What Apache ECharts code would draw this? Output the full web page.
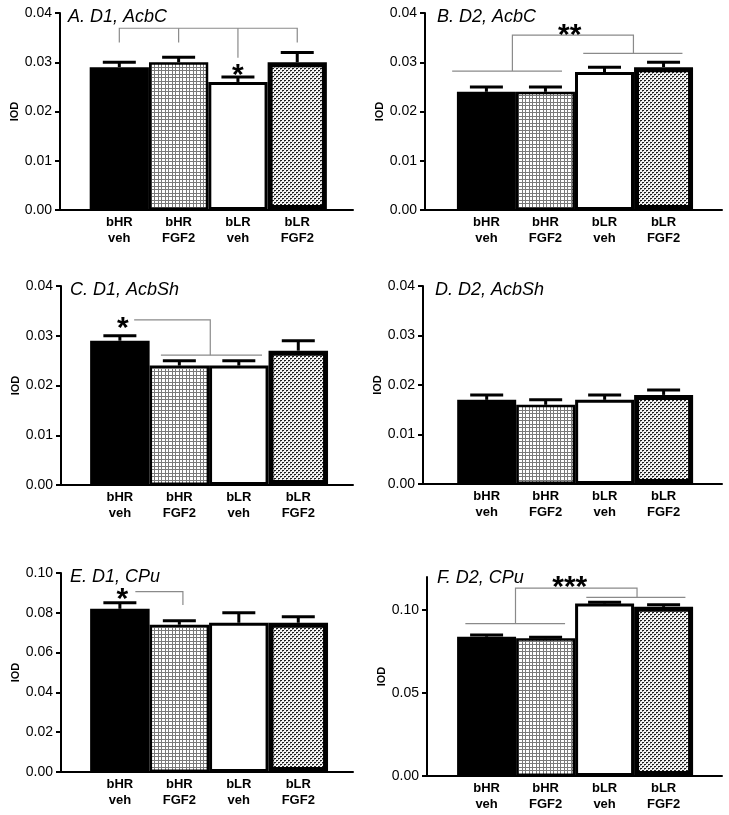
<!DOCTYPE html>
<html>
<head>
<meta charset="utf-8">
<script src="https://cdn.jsdelivr.net/npm/echarts@6/dist/echarts.min.js"></script>
<style>html,body{margin:0;padding:0;background:#fff}#c{width:729px;height:815px}</style>
</head>
<body>
<div id="c"></div>
<script>
// ---------- data ----------
const categories = ['bHR\nveh', 'bHR\nFGF2', 'bLR\nveh', 'bLR\nFGF2'];
const titles = ['A. D1, AcbC', 'B. D2, AcbC', 'C. D1, AcbSh', 'D. D2, AcbSh', 'E. D1, CPu', 'F. D2, CPu'];

const meanA = [0.029, 0.030, 0.026, 0.030];
const semA  = [0.001, 0.001, 0.001, 0.002];
const meanB = [0.024, 0.024, 0.028, 0.029];
const semB  = [0.001, 0.001, 0.001, 0.001];
const meanC = [0.029, 0.024, 0.024, 0.027];
const semC  = [0.001, 0.001, 0.001, 0.002];
const meanD = [0.017, 0.016, 0.017, 0.018];
const semD  = [0.001, 0.001, 0.001, 0.001];
const meanE = [0.082, 0.074, 0.075, 0.075];
const semE  = [0.003, 0.002, 0.005, 0.003];
const meanF = [0.084, 0.083, 0.104, 0.102];
const semF  = [0.001, 0.0007, 0.0007, 0.0012];

const yMaxes = [0.04, 0.04, 0.04, 0.04, 0.10, 0.12];
const yIntervals = [0.01, 0.01, 0.01, 0.01, 0.02, 0.05];
const yTicksF = [0, 0.05, 0.10];

// significance annotations, in data coordinates (x = group index, y = IOD)
const bracketsA = [[[0, 0.034], [0, 0.0369], [3, 0.0369], [3, 0.034]], [[1, 0.034], [1, 0.0369]], [[2, 0.0309], [2, 0.0369]]];
const bracketsB = [[[-0.58, 0.0282], [1.28, 0.0282]], [[1.64, 0.0318], [3.32, 0.0318]], [[0.44, 0.0282], [0.44, 0.0355], [2.49, 0.0355], [2.49, 0.0318]]];
const bracketsC = [[[0.24, 0.0332], [1.52, 0.0332], [1.52, 0.0261]], [[0.69, 0.0261], [2.39, 0.0261]]];
const bracketsD = [];
const bracketsE = [[[0.26, 0.0906], [1.06, 0.0906], [1.06, 0.0839]]];
const bracketsF = [[[-0.36, 0.0919], [1.33, 0.0919]], [[1.69, 0.1077], [3.37, 0.1077]], [[0.49, 0.0919], [0.49, 0.1133], [2.55, 0.1133], [2.55, 0.1077]]];

const starsA = [[2, 0.0288, '*']];
const starsB = [[1.41, 0.0369, '**']];
const starsC = [[0.05, 0.0328, '*']];
const starsD = [];
const starsE = [[0.04, 0.0902, '*']];
const starsF = [[1.41, 0.1178, '***']];

// ---------- layout ----------
const grids = [
  {left: 60, top: 13, width: 293, height: 197},
  {left: 425, top: 13, width: 297, height: 197},
  {left: 61, top: 286, width: 292, height: 199},
  {left: 423, top: 286, width: 299, height: 198},
  {left: 61, top: 573, width: 292, height: 199},
  {left: 427, top: 577, width: 295, height: 199}
];
const titlePos = [[68, 8], [437, 8], [70, 281], [435, 281], [70, 568], [437, 569]];
const xRanges = [[-1.0, 3.94], [-1.04, 3.99], [-0.99, 3.92], [-1.08, 3.99], [-0.99, 3.92], [-1.01, 3.99]];
const barWidths = [59.25, 59, 59.5, 59, 59.5, 59];

const means = [meanA, meanB, meanC, meanD, meanE, meanF];
const sems = [semA, semB, semC, semD, semE, semF];
const brackets = [bracketsA, bracketsB, bracketsC, bracketsD, bracketsE, bracketsF];
const stars = [starsA, starsB, starsC, starsD, starsE, starsF];

// ---------- patterns ----------
function gridPattern() {
  const c = document.createElement('canvas'); c.width = 7; c.height = 7;
  const g = c.getContext('2d');
  g.fillStyle = '#fff'; g.fillRect(0, 0, 7, 7);
  g.fillStyle = '#7a7a7a';
  g.fillRect(0, 0, 7, 1); g.fillRect(0, 4, 7, 1);
  g.fillRect(0, 0, 1, 7); g.fillRect(4, 0, 1, 7);
  return c;
}
function dotPattern() {
  const c = document.createElement('canvas'); c.width = 4; c.height = 4;
  const g = c.getContext('2d');
  g.fillStyle = '#f4f4f4'; g.fillRect(0, 0, 4, 4);
  g.fillStyle = '#1e1e1e';
  g.fillRect(0, 0, 2, 1); g.fillRect(2, 2, 2, 1);
  g.fillStyle = '#888';
  g.fillRect(0, 1, 1, 1); g.fillRect(2, 3, 1, 1);
  return c;
}
const gp = gridPattern(), dp = dotPattern();
const barStyles = [
  {color: '#000', borderColor: '#000', borderWidth: 2},
  {color: {image: gp, repeat: 'repeat'}, borderColor: '#000', borderWidth: 2.5},
  {color: '#fff', borderColor: '#000', borderWidth: 3},
  {color: {image: dp, repeat: 'repeat'}, borderColor: '#000', borderWidth: 5}
];

const FONT = '"Liberation Sans", Arial, sans-serif';

const option = {
  animation: false,
  backgroundColor: '#fff',
  grid: grids.map(g => Object.assign({outerBoundsMode: 'none', containLabel: false}, g)),
  xAxis: grids.map((g, i) => ({
    type: 'value', gridIndex: i, min: xRanges[i][0], max: xRanges[i][1],
    axisLine: {onZero: false, lineStyle: {color: '#000', width: 2}},
    axisTick: {show: false},
    splitLine: {show: false},
    axisLabel: {
      customValues: [0, 1, 2, 3],
      formatter: v => categories[Math.round(v)] || '',
      color: '#000', fontFamily: FONT, fontWeight: 'bold', fontSize: 13, lineHeight: 16, margin: 4
    }
  })),
  yAxis: grids.map((g, i) => {
    const ax = {
      type: 'value', gridIndex: i, min: 0, max: yMaxes[i], interval: yIntervals[i],
      name: 'IOD', nameLocation: 'middle', nameGap: 40,
      nameTextStyle: {color: '#000', fontFamily: FONT, fontWeight: 'bold', fontSize: 11},
      axisLine: {show: true, onZero: false, lineStyle: {color: '#000', width: 2}},
      axisTick: {show: true, length: 5, lineStyle: {color: '#000', width: 2}},
      splitLine: {show: false},
      axisLabel: {color: '#000', fontFamily: FONT, fontSize: 14, margin: 8, formatter: v => v.toFixed(2)}
    };
    if (i === 5) {
      ax.axisTick.customValues = yTicksF;
      ax.axisLabel.customValues = yTicksF;
    }
    return ax;
  }),
  graphic: titles.map((t, i) => ({
    type: 'text', left: titlePos[i][0], top: titlePos[i][1],
    style: {text: t, fontFamily: FONT, fontStyle: 'italic', fontSize: 18, fill: '#000'}
  })),
  series: []
};

for (let i = 0; i < 6; i++) {
  option.series.push({
    type: 'bar', xAxisIndex: i, yAxisIndex: i, barWidth: barWidths[i], z: 2,
    data: means[i].map((m, k) => ({value: [k, m], itemStyle: barStyles[k]}))
  });
  option.series.push({
    type: 'custom', xAxisIndex: i, yAxisIndex: i, z: 3,
    data: means[i].map((m, k) => [k, m, sems[i][k]]),
    renderItem: (params, api) => {
      const x = api.value(0), m = api.value(1), s = api.value(2);
      const p0 = api.coord([x, m]), p1 = api.coord([x, m + s]);
      const half = 16.5;
      return {type: 'group', children: [
        {type: 'line', shape: {x1: p0[0], y1: p0[1], x2: p1[0], y2: p1[1]}, style: {stroke: '#000', lineWidth: 3}},
        {type: 'line', shape: {x1: p1[0] - half, y1: p1[1], x2: p1[0] + half, y2: p1[1]}, style: {stroke: '#000', lineWidth: 3}}
      ]};
    }
  });
  if (brackets[i].length) {
    option.series.push({
      type: 'custom', xAxisIndex: i, yAxisIndex: i, z: 1,
      data: brackets[i].map((b, k) => [k]),
      renderItem: (params, api) => {
        const pts = brackets[i][params.dataIndex].map(p => api.coord(p));
        return {type: 'polyline', shape: {points: pts}, style: {stroke: '#8a8a8a', lineWidth: 1.2, fill: null}};
      }
    });
  }
  if (stars[i].length) {
    option.series.push({
      type: 'custom', xAxisIndex: i, yAxisIndex: i, z: 4,
      data: stars[i],
      renderItem: (params, api) => {
        const p = api.coord([api.value(0), api.value(1)]);
        const fs = 30;
        return {type: 'text', x: p[0], y: p[1] + 0.24 * fs,
          style: {text: stars[i][params.dataIndex][2], fontFamily: FONT, fontWeight: 'bold', fontSize: fs,
            fill: '#000', align: 'center', verticalAlign: 'middle'}};
      }
    });
  }
}

const chart = echarts.init(document.getElementById('c'), null, {renderer: 'canvas'});
chart.setOption(option);
</script>
</body>
</html>
